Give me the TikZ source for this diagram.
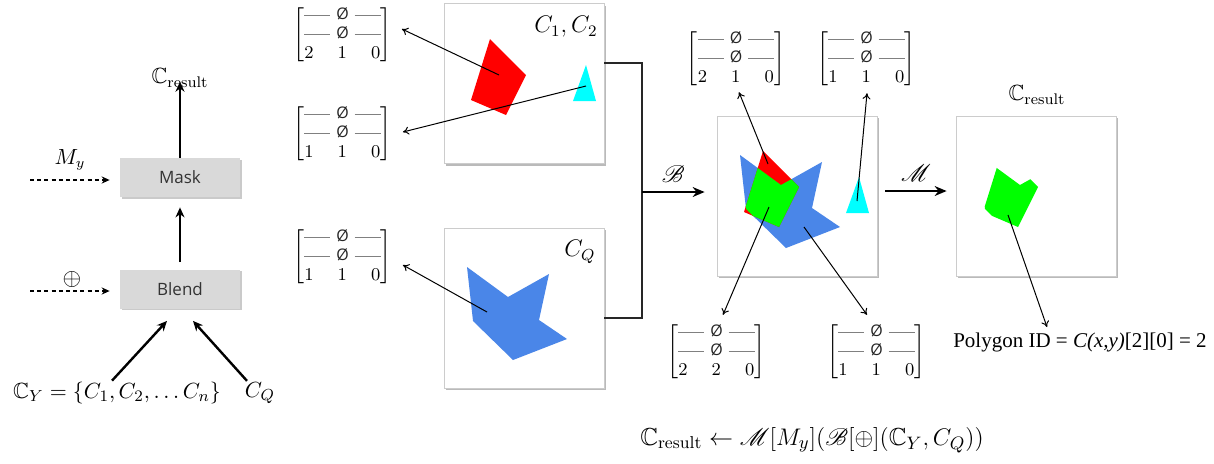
\documentclass[tikz,border=0pt]{standalone}
\usepackage{fontspec}
\usepackage{amsmath,amssymb}
\usepackage{mathrsfs}
\usetikzlibrary{arrows.meta,shadows,calc}
\newfontfamily\osans{Open Sans}
\newfontfamily\tnr{Liberation Serif}
\definecolor{polyblue}{RGB}{74,134,232}
\definecolor{polycyan}{RGB}{0,255,255}
\definecolor{polygreen}{RGB}{0,255,0}
\definecolor{polyred}{RGB}{255,0,0}
\definecolor{boxgray}{RGB}{217,217,217}
\newcommand\zrow{\textcolor{gray}{\rule[0.55ex]{13pt}{0.4pt}}\hspace{3pt}{\osans\fontsize{8}{9}\selectfont\textcolor{black!85}{Ø}}\hspace{3pt}\textcolor{gray}{\rule[0.55ex]{13pt}{0.4pt}}}
\newcommand\idm[3]{$\left[\begin{array}{@{}c@{\hspace{12pt}}c@{\hspace{12pt}}c@{}}\multicolumn{3}{@{}c@{}}{\text{\zrow}}\\\multicolumn{3}{@{}c@{}}{\text{\zrow}}\\#1&#2&#3\end{array}\right]$}
\newcommand\redshape{(490,39)--(526,75)--(506,115)--(471,100)--cycle}
\newcommand\blueshape{(467,267)--(508,297)--(549,274)--(539,320)--(567,339)--(513,360)--(473,321)--cycle}
\newcommand\cyanshape{(586,65)--(596,101)--(573,101)--cycle}
\begin{document}
\begin{tikzpicture}[x=0.5pt,y=-0.5pt,
  panel/.style={draw=black!20,line width=0.4pt,fill=white,minimum size=80pt,inner sep=0pt,
    drop shadow={shadow xshift=1.2pt,shadow yshift=-1.2pt,opacity=0.45,fill=black!60}},
  opbox/.style={fill=boxgray,minimum width=60pt,minimum height=19.5pt,inner sep=0pt,
    font=\osans\fontsize{8.5}{10}\selectfont,text=black!80,
    drop shadow={shadow xshift=0.8pt,shadow yshift=-0.8pt,opacity=0.35,fill=black!60}},
  idmat/.style={inner sep=0pt,font=\fontsize{9}{9.6}\selectfont},
  lbl/.style={inner sep=1pt},
  thin/.style={-{To[length=3pt,width=4pt]},line width=0.5pt},
  flow/.style={-{Stealth[length=5pt,width=4.5pt]},line width=1.2pt},
  dflow/.style={-{Stealth[length=4pt,width=3.6pt]},line width=0.6pt,dash pattern=on 2pt off 1.6pt},
  big/.style={-{Stealth[length=6pt,width=5pt]},line width=0.7pt},
  bus/.style={line width=0.6pt,black!85}]
\useasboundingbox (0,0) rectangle (1214,463);

% ---------- left flow ----------
\node[opbox] (mask) at (180,177.5) {Mask};
\node[opbox] (blend) at (180,289) {Blend};
\node[lbl,font=\fontsize{11}{13}\selectfont] (resL) at (180,78) {$\mathbb{C}_{\mathrm{result}}$};
\node[lbl,font=\fontsize{10.5}{12}\selectfont] (my) at (70,160) {$M_y$};
\node[lbl,font=\fontsize{12}{14}\selectfont] (op) at (72,279) {$\oplus$};
\node[lbl,font=\fontsize{11}{13}\selectfont] (cy) at (117,393) {$\mathbb{C}_Y=\{C_1,C_2,\ldots C_n\}$};
\node[lbl,font=\fontsize{11}{13}\selectfont] (cq) at (260,393) {$C_Q$};
\coordinate (myin) at (30,180);
\coordinate (opin) at (30,291);
\draw[flow] (mask.north) -- ($(resL.south)+(0,-8)$);
\draw[flow,shorten <=3.5pt,shorten >=5pt] (blend.north) -- (mask.south);
\draw[dflow] (myin) -- ($(mask.west)+(-10,2.5)$);
\draw[dflow] (opin) -- ($(blend.west)+(-10,2)$);
\draw[flow] ($(cy.north)+(-5,1)$) -- ($(blend.south)+(-13,12)$);
\draw[flow] ($(cq.north)+(-13,1)$) -- ($(blend.south)+(13,12)$);

% ---------- panels ----------
\node[panel] (p1) at (524,83.5) {};
\node[panel] (p2) at (524,308) {};
\node[panel] (pc) at (797,196) {};
\node[panel] (pr) at (1036,196) {};

% polygons
\fill[polyred] \redshape;
\fill[polycyan] \cyanshape;
\fill[polyblue] \blueshape;
\fill[polyblue,shift={(273,-112)}] \blueshape;
\fill[polyred,shift={(273,112)}] \redshape;
\fill[polycyan,shift={(273,112)}] \cyanshape;
\begin{scope}
  \clip[shift={(273,-112)}] \blueshape;
  \fill[polygreen,shift={(273,112)}] \redshape;
\end{scope}
\begin{scope}
  \clip[shift={(512,-112)}] \blueshape;
  \fill[polygreen,shift={(512,112)}] \redshape;
\end{scope}
\coordinate (r1) at (499,75);
\coordinate (c1) at (586,86);
\coordinate (b1) at (487,312);
\coordinate (rc) at (768,164);
\coordinate (gc) at (769,207);
\coordinate (bc) at (804,227);
\coordinate (cc) at (857,201);
\coordinate (gr) at (1008,215);

% panel labels
\node[lbl,font=\fontsize{12}{14}\selectfont] (l1) at (566,27) {$C_1,C_2$};
\node[lbl,font=\fontsize{12}{14}\selectfont] (lq) at (580,252) {$C_Q$};
\node[lbl,font=\fontsize{11}{13}\selectfont] (resR) at (1037,95) {$\mathbb{C}_{\mathrm{result}}$};

% matrices
\node[idmat] (m1) at (342.5,35) {\idm{2}{1}{0}};
\node[idmat] (m2) at (342.5,134) {\idm{1}{1}{0}};
\node[idmat] (m3) at (342.5,257) {\idm{1}{1}{0}};
\node[idmat] (m4) at (736,59) {\idm{2}{1}{0}};
\node[idmat] (m5) at (866.5,59) {\idm{1}{1}{0}};
\node[idmat] (m6) at (716.5,352) {\idm{2}{2}{0}};
\node[idmat] (m7) at (876.5,352) {\idm{1}{1}{0}};

% bus and operator arrows
\coordinate (bj) at (642,192);
\draw[bus] ($(p1.east)+(0,-20.5)$) -| (bj) |- ($(p2.east)+(0,10)$);
\draw[big] (bj) -- node[above=1pt,font=\fontsize{13}{15}\selectfont] (bl) {$\mathscr{B}$} ($(pc.west)+(-12,-4)$);
\draw[big] ($(pc.east)+(8,-5)$) -- node[above=1pt,font=\fontsize{13}{15}\selectfont] (ml) {$\mathscr{M}$} ($(pr.west)+(-9,-5)$);

% pointer arrows
\draw[thin] (r1) -- ($(m1.east)+(10,-6)$);
\draw[thin] (c1) -- ($(m2.east)+(11,-2)$);
\draw[thin] (b1) -- ($(m3.east)+(11,8)$);
\draw[thin] (rc) -- ($(m4.south)+(3,4)$);
\draw[thin] (cc) -- ($(m5.south)+(0.5,5)$);
\draw[thin] (gc) -- ($(m6.north)+(6.5,-8)$);
\draw[thin] (bc) -- ($(m7.north)+(-9.5,-8)$);

\node[lbl,font=\tnr\fontsize{10.5}{12}\selectfont] (pid) at (1080,342) {Polygon ID = \textit{C(x,y)}[2][0] = 2};
\draw[thin] (gr) -- ($(pid.north)+(-33,-3)$);

\node[lbl,font=\fontsize{12.3}{14}\selectfont] (form) at (812,440) {$\mathbb{C}_{\mathrm{result}}\leftarrow\mathscr{M}[M_y](\mathscr{B}[\oplus](\mathbb{C}_Y,C_Q))$};
\end{tikzpicture}
\end{document}
